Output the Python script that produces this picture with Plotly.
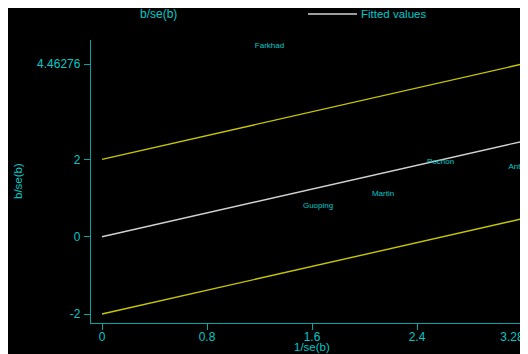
import plotly.graph_objects as go

# ---- data ----
study_names = ["Farkhad", "Guoping", "Martin", "Pochon", "Antoine"]
inv_se = [1.276, 1.646, 2.141, 2.580, 3.200]      # 1/se(b)
b_over_se = [4.93, 0.79, 1.10, 1.93, 1.80]         # b/se(b)

fit_x = [0.0, 3.2]
fit_y = [0.0, 2.46276]
upper_y = [2.0, 4.46276]
lower_y = [-2.0, 0.46276]

x_tick_vals = [0, 0.8, 1.6, 2.4, 3.2]
x_tick_text = ["0", "0.8", "1.6", "2.4", "3.28787"]
y_tick_vals = [-2, 0, 2, 4.46276]
y_tick_text = ["-2", "0", "2", "4.46276"]

CYAN = "#00c8c8"
TEAL = "#00a6a6"
YELLOW = "#c8c800"
FITCOL = "#d2d2d2"
FONT = "Liberation Sans, Arial, Helvetica, sans-serif"

OFF = 8  # page offset of the figure (default body margin)
W, H = 528 - OFF, 354 - OFF   # figure fits exactly inside the window
L = 91 - OFF
T = 40 - OFF
plot_bottom = 323 - OFF
plot_right = W
R = W - plot_right
B = H - plot_bottom
pw, ph = W - L - R, H - T - B

def px_x(p):
    return (p - OFF - L) / pw

def px_y(p):
    return (plot_bottom - (p - OFF)) / ph

fig = go.Figure()
fig.add_trace(go.Scatter(x=fit_x, y=upper_y, mode="lines",
                         line=dict(color=YELLOW, width=1.4), showlegend=False, hoverinfo="skip"))
fig.add_trace(go.Scatter(x=fit_x, y=lower_y, mode="lines",
                         line=dict(color=YELLOW, width=1.4), showlegend=False, hoverinfo="skip"))
fig.add_trace(go.Scatter(x=fit_x, y=fit_y, mode="lines",
                         line=dict(color=FITCOL, width=1.4), showlegend=False, hoverinfo="skip"))
fig.add_trace(go.Scatter(x=inv_se, y=b_over_se, mode="text", text=study_names,
                         textposition="middle center",
                         textfont=dict(color=CYAN, size=8, family=FONT),
                         cliponaxis=True, showlegend=False))

x0px, x_per = 102, 131.25
x_lo = (91 - x0px) / x_per
x_hi = (528 - x0px) / x_per
y0px, y_per = 236.7, 38.67
y_lo = (y0px - 323) / y_per
y_hi = (y0px - 40) / y_per

axis_common = dict(showgrid=False, zeroline=False, showline=True, linecolor=TEAL, linewidth=1.3,
                   ticks="outside", ticklen=6, tickwidth=1.3, tickcolor=TEAL,
                   ticklabeloverflow="allow",
                   tickfont=dict(color=CYAN, size=12, family=FONT))

fig.update_xaxes(range=[x_lo, x_hi], tickvals=x_tick_vals, ticktext=x_tick_text,
                 ticklabelstandoff=-4, **axis_common)
fig.update_yaxes(range=[y_lo, y_hi], tickvals=y_tick_vals, ticktext=y_tick_text,
                 ticklabelstandoff=1, **axis_common)

shapes = [
    dict(type="line", xref="paper", yref="paper",
         x0=px_x(308), x1=px_x(357), y0=px_y(14), y1=px_y(14),
         line=dict(color=FITCOL, width=1.4)),
]

annotations = [
    dict(text="b/se(b)", xref="paper", yref="paper", x=px_x(158), y=px_y(14),
         xanchor="center", yanchor="middle", showarrow=False,
         font=dict(color=CYAN, size=12, family=FONT)),
    dict(text="Fitted values", xref="paper", yref="paper", x=px_x(359), y=px_y(14),
         xanchor="left", yanchor="middle", showarrow=False,
         font=dict(color=CYAN, size=11.5, family=FONT)),
    dict(text="1/se(b)", xref="paper", yref="paper", x=px_x(311.7), y=px_y(347),
         xanchor="center", yanchor="middle", showarrow=False,
         font=dict(color=CYAN, size=11.5, family=FONT)),
    dict(text="b/se(b)", xref="paper", yref="paper", x=px_x(18), y=px_y(181),
         xanchor="center", yanchor="middle", showarrow=False, textangle=-90,
         font=dict(color=CYAN, size=11.5, family=FONT)),
]

fig.update_layout(width=W, height=H, margin=dict(l=L, r=R, t=T, b=B, autoexpand=False),
                  paper_bgcolor="black", plot_bgcolor="black",
                  shapes=shapes, annotations=annotations, showlegend=False)

fig.write_html("out.html")
